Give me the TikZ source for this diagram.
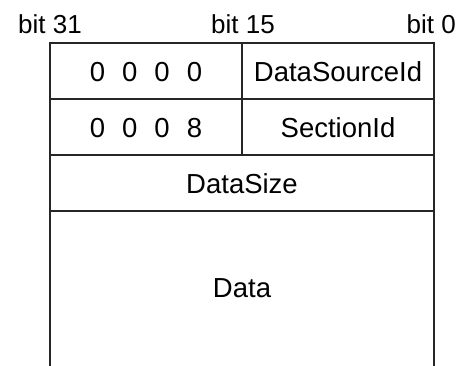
\documentclass[tikz,border=0pt]{standalone}
\usepackage{fontspec}
\setmainfont{Liberation Sans}
\begin{document}
\begin{tikzpicture}[x=1pt,y=1pt,
  grid/.style={line width=1.4pt, draw=black!85},
  lbl/.style={font=\fontsize{27.5}{32}\selectfont, inner sep=0pt, anchor=center},
  bitlbl/.style={font=\fontsize{26}{30}\selectfont, inner sep=0pt, anchor=base}]
  \useasboundingbox (0,0) rectangle (457,366);
  % frame corners
  \coordinate (tl) at (50,323);
  \coordinate (tr) at (434,323);
  \coordinate (bl) at (50,0);
  \coordinate (br) at (434,0);
  \coordinate (mt) at (242,323);
  \coordinate (mb) at (242,211);
  % outer walls, open at the bottom
  \draw[grid] (bl) -- (tl) -- (tr) -- (br);
  % row separators
  \draw[grid] (50,267) -- (434,267);
  \draw[grid] (50,211) -- (434,211);
  \draw[grid] (50,155) -- (434,155);
  % split between upper and lower halves of the word
  \draw[grid] (mt) -- (mb);
  % bit positions
  \node[bitlbl] (b31) at (50,332) {bit 31};
  \node[bitlbl] (b15) at (243,332) {bit 15};
  \node[bitlbl, anchor=base east] (b0) at (456,332) {bit 0};
  % field contents
  \node[lbl] (r1l) at (146,294) {0\hspace{0.62em}0\hspace{0.62em}0\hspace{0.62em}0};
  \node[lbl] (r1r) at (338,294) {DataSourceId};
  \node[lbl] (r2l) at (146,238) {0\hspace{0.62em}0\hspace{0.62em}0\hspace{0.62em}8};
  \node[lbl] (r2r) at (338,238) {SectionId};
  \node[lbl] (r3) at (242,182) {DataSize};
  \node[lbl] (r4) at (242,78) {Data};
\end{tikzpicture}
\end{document}
